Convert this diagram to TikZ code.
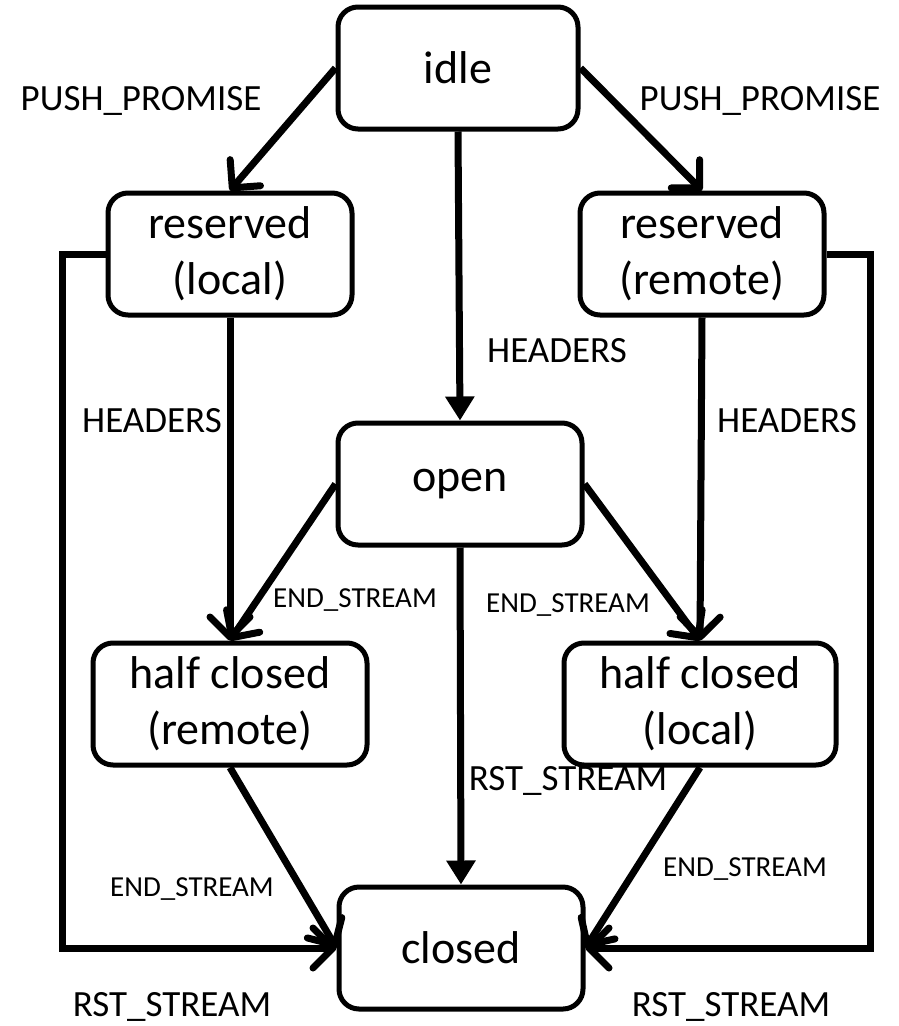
\documentclass[tikz,border=0pt]{standalone}
\usepackage{fontspec}
\setmainfont{Carlito}
\usetikzlibrary{arrows.meta}

\tikzset{
  state/.style={draw, line width=5pt, rounded corners=20pt, align=center,
    minimum width=244pt, minimum height=122pt, inner sep=0pt,
    font=\fontsize{46}{56}\selectfont},
  lbl/.style={anchor=base, inner sep=0pt, font=\fontsize{37}{44}\selectfont},
  smalllbl/.style={anchor=base, inner sep=0pt, font=\fontsize{29}{34}\selectfont},
  trans/.style={line width=7pt, -{Straight Barb[length=20pt,width=40pt,round]}},
  direct/.style={line width=7pt, -{Triangle[length=24pt,width=28pt]}},
}

\begin{document}
\begin{tikzpicture}[x=1pt, y=-1pt]
  \useasboundingbox (0,0) rectangle (898,1026);
  \clip (0,0) rectangle (898,1026);

  % states
  \node[state, minimum width=240pt] (idle) at (458,68) {idle};
  \node[state] (rlocal) at (230,254) {reserved\\(local)};
  \node[state] (rremote) at (702,254) {reserved\\(remote)};
  \node[state] (open) at (460,484) {open};
  \node[state, minimum width=274pt] (hcremote) at (230,704) {half closed\\(remote)};
  \node[state, minimum width=272pt] (hclocal) at (700,704) {half closed\\(local)};
  \node[state] (closed) at (461,948) {closed};

  % bracket corners
  \coordinate (lt) at (62,254);
  \coordinate (lb) at (62,948);
  \coordinate (rt) at (870,254);
  \coordinate (rb) at (870,948);

  % transitions
  \draw[trans] (idle.west) -- (rlocal.north);
  \draw[trans] (idle.east) -- (rremote.north);
  \draw[direct] (idle.south) -- (open.north);
  \draw[trans] (rlocal.south) -- (hcremote.north);
  \draw[trans] (rremote.south) -- (hclocal.north);
  \draw[trans] (open.west) -- (hcremote.north);
  \draw[trans] (open.east) -- (hclocal.north);
  \draw[direct] (open.south) -- (closed.north);
  \draw[trans] (hcremote.south) -- (closed.west);
  \draw[trans] (hclocal.south) -- (closed.east);
  \draw[trans] (rlocal.west) -- (lt) -- (lb) -- (closed.west);
  \draw[trans] (rremote.east) -- (rt) -- (rb) -- (closed.east);

  % labels
  \node[lbl] (ppl) at (141,110) {PUSH\_PROMISE};
  \node[lbl] (ppr) at (760,110) {PUSH\_PROMISE};
  \node[lbl] (hdc) at (557,362) {HEADERS};
  \node[lbl] (hdl) at (152,432) {HEADERS};
  \node[lbl] (hdr) at (787,432) {HEADERS};
  \node[smalllbl] (esl) at (355,607) {END\_STREAM};
  \node[smalllbl] (esr) at (568,612) {END\_STREAM};
  \node[lbl] (rsc) at (568,790) {RST\_STREAM};
  \node[smalllbl] (esbl) at (192,896) {END\_STREAM};
  \node[smalllbl] (esbr) at (745,876) {END\_STREAM};
  \node[lbl] (rsl) at (172,1016) {RST\_STREAM};
  \node[lbl] (rsr) at (731,1016) {RST\_STREAM};
\end{tikzpicture}
\end{document}
